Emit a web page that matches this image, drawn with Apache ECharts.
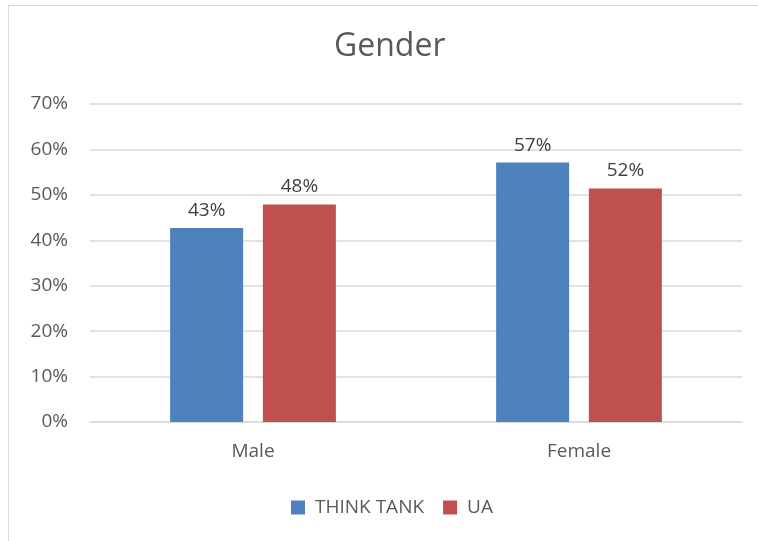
<!DOCTYPE html>
<html>
<head>
<meta charset="utf-8">
<script src="https://cdn.jsdelivr.net/npm/echarts@6/dist/echarts.min.js"></script>
<style>
html,body{margin:0;padding:0;background:#fff;}
#frame{position:absolute;left:8px;top:5px;width:800px;height:600px;border-top:1.5px solid #d9d9d9;border-left:1.5px solid #d9d9d9;}
#chart{position:absolute;left:0;top:0;width:758px;height:541px;}
</style>
</head>
<body>
<div id="frame"></div>
<div id="chart"></div>
<script>
const categories = ['Male', 'Female'];
const seriesNames = ['THINK TANK', 'UA'];
const thinkTank = [42.7, 57.1];
const ua = [47.9, 51.4];
const labelsTT = ['43%', '57%'];
const labelsUA = ['48%', '52%'];
const yTicks = [0, 10, 20, 30, 40, 50, 60, 70];

const font = '"Open Sans", "Noto Sans", sans-serif';
const chart = echarts.init(document.getElementById('chart'), null, {renderer: 'canvas'});
chart.setOption({
  animation: false,
  backgroundColor: 'transparent',
  title: {
    text: 'Gender', left: 329, top: 26,
    textStyle: {fontFamily: font, fontSize: 32, fontWeight: 'normal', color: '#595959'}
  },
  legend: {
    data: seriesNames, bottom: 19, left: 286,
    itemWidth: 14, itemHeight: 14, itemGap: 19, icon: 'rect',
    textStyle: {fontFamily: font, fontSize: 19, color: '#595959', padding: [0, 0, 0, 5]}
  },
  grid: {left: 90, right: 16, top: 104, bottom: 119},
  xAxis: {
    type: 'category', data: categories,
    axisLine: {lineStyle: {color: '#d9d9d9', width: 1.5}},
    axisTick: {show: false},
    axisLabel: {fontFamily: font, fontSize: 19, color: '#595959', margin: 20}
  },
  yAxis: {
    type: 'value', min: yTicks[0], max: yTicks[yTicks.length - 1], interval: 10,
    axisLine: {show: false}, axisTick: {show: false},
    splitLine: {lineStyle: {color: '#d9d9d9', width: 1.5}},
    axisLabel: {fontFamily: font, fontSize: 19, color: '#595959', margin: 22, formatter: v => v + '%'}
  },
  series: [
    {
      name: seriesNames[0], type: 'bar', data: thinkTank,
      barWidth: '22.4%', barGap: '27%',
      itemStyle: {color: '#4f81bd'},
      label: {show: true, position: 'top', distance: 8, fontFamily: font, fontSize: 19, color: '#404040',
        formatter: p => labelsTT[p.dataIndex]}
    },
    {
      name: seriesNames[1], type: 'bar', data: ua,
      barWidth: '22.4%', barGap: '27%',
      itemStyle: {color: '#c0504d'},
      label: {show: true, position: 'top', distance: 8, fontFamily: font, fontSize: 19, color: '#404040',
        formatter: p => labelsUA[p.dataIndex]}
    }
  ]
});
</script>
</body>
</html>
